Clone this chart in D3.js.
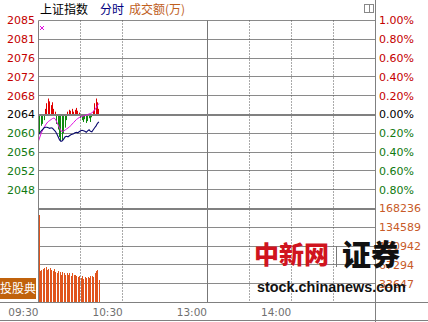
<!DOCTYPE html>
<html>
<head>
<meta charset="utf-8">
<script src="https://cdn.jsdelivr.net/npm/d3@7"></script>
<style>
  body { margin: 0; background: #fff; }
  svg { display: block; font-family: "DejaVu Sans", sans-serif; }
</style>
</head>
<body>
<svg id="chart" width="428" height="322"></svg>
<script>
// index minute data, 09:30 onwards
let prevClose = 2064.36;
let price = [2059.90, 2060.34, 2060.78, 2061.11, 2061.44, 2061.55, 2061.55, 2061.44, 2061.33, 2061.44,
    2061.33, 2061.00, 2060.67, 2060.12, 2059.46, 2058.80, 2058.47, 2058.58, 2059.02, 2059.46,
    2059.57, 2059.46, 2059.68, 2059.90, 2060.01, 2060.12, 2060.34, 2060.45, 2060.34, 2060.56,
    2060.78, 2060.89, 2060.78, 2060.67, 2060.45, 2060.78, 2061.00, 2060.67, 2060.56, 2061.00,
    2061.44, 2061.87, 2062.42, 2062.75];
let leading = [2058.54, 2059.42, 2060.30, 2060.96, 2061.51, 2062.05, 2062.49, 2062.82, 2063.04, 2063.26,
    2063.48, 2063.59, 2063.37, 2062.71, 2062.05, 2061.40, 2060.74, 2060.63, 2060.74, 2060.96,
    2061.18, 2061.40, 2061.61, 2061.94, 2062.27, 2062.60, 2062.93, 2063.26, 2063.48, 2063.70,
    2063.81, 2063.92, 2064.03, 2064.14, 2064.25, 2064.36, 2064.47, 2064.58, 2064.69, 2065.02,
    2065.35, 2065.79, 2066.34, 2066.78];
// red/green strength bars
let strength = [-32, -20, -12, -10, -6, 6, 12, 17, 14, 10,
    13, 6, 3, -10, -16, -24, -28, -27, -20, -14,
    -6, 3, 5, 4, 6, 3, 5, 7, 4, 2,
    -4, -6, -8, -5, -9, -7, -4, -8, -3, 4,
    12, 17, 13, 6];
let volume = [156000, 56000, 58000, 60000, 62000, 63000, 58000, 60000, 62000, 58000,
    56000, 60000, 55000, 52000, 57000, 54000, 50000, 54000, 52000, 49000,
    53000, 50000, 52000, 48000, 53000, 49000, 50000, 47000, 46000, 48000,
    44000, 47000, 42000, 45000, 43000, 46000, 44000, 47000, 48000, 46000,
    53000, 56000, 58000, 40000];

let pctLevels = [1, 0.8, 0.6, 0.4, 0.2, 0, -0.2, -0.4, -0.6, -0.8];
let priceLabels = ["2085", "2081", "2076", "2072", "2068", "2064", "2060", "2056", "2052", "2048"];
let pctLabels = ["1.00%", "0.80%", "0.60%", "0.40%", "0.20%", "0.00%", "0.20%", "0.40%", "0.60%", "0.80%"];
let volMax = 168236;
let volTicks = [168236, 134589, 100942, 67294, 33647];
let timeTicks = [0, 60, 120, 180];
let timeLabels = ["09:30", "10:30", "13:00", "14:00"];
let dottedMinutes = [30, 60, 150, 180, 210];
let solidMinutes = [120];

let svg = d3.select("#chart");
let W = 428, H = 322;

let x = d3.scaleLinear().domain([0, 240]).range([38.5, 375.5]);
let pctY = d3.scaleLinear().domain([-1, 1]).range([208.5, 20.5]);
let priceY = function(p) { return pctY((p / prevClose - 1) * 100); };
let volY = d3.scaleLinear().domain([0, volMax]).range([302.5, 208.5]);

function crisp(v) { return Math.round(v - 0.5) + 0.5; }

let grid = svg.append("g").attr("class", "grid");

// horizontal lines, price part
pctLevels.forEach(function(l) {
    grid.append("line")
        .attr("x1", x(0)).attr("x2", x(240))
        .attr("y1", crisp(pctY(l))).attr("y2", crisp(pctY(l)))
        .attr("stroke", "#8a8a8a")
        .attr("stroke-width", 1);
});
// volume part
volTicks.slice(1).forEach(function(v) {
    grid.append("line")
        .attr("x1", x(0)).attr("x2", x(240))
        .attr("y1", crisp(volY(v))).attr("y2", crisp(volY(v)))
        .attr("stroke", "#8a8a8a");
});

// vertical lines
dottedMinutes.forEach(function(m) {
    grid.append("line")
        .attr("x1", crisp(x(m))).attr("x2", crisp(x(m)))
        .attr("y1", pctY(1)).attr("y2", volY(0))
        .attr("stroke", "#555")
        .attr("stroke-dasharray", "1,2");
});
solidMinutes.forEach(function(m) {
    grid.append("line")
        .attr("x1", crisp(x(m))).attr("x2", crisp(x(m)))
        .attr("y1", pctY(1)).attr("y2", volY(0))
        .attr("stroke", "#777");
});

// red / green bars
svg.append("g").selectAll("line")
    .data(strength)
    .enter().append("line")
    .attr("x1", function(d, i) { return crisp(x(i)); })
    .attr("x2", function(d, i) { return crisp(x(i)); })
    .attr("y1", pctY(0))
    .attr("y2", function(d) { return pctY(d / 100); })
    .attr("stroke", function(d) { return d > 0 ? "#e00000" : "#108a10"; })
    .attr("stroke-width", 1);

// volume bars
svg.append("g").selectAll("rect")
    .data(volume)
    .enter().append("rect")
    .attr("x", function(d, i) { return Math.round(x(i)); })
    .attr("y", function(d) { return volY(d); })
    .attr("width", 1)
    .attr("height", function(d) { return volY(0) - volY(d); })
    .attr("fill", "#e0541c")
    .style("shape-rendering", "crispEdges");

// thick lines: zero line and separator
svg.append("line")
    .attr("x1", x(0)).attr("x2", x(240))
    .attr("y1", Math.round(pctY(0))).attr("y2", Math.round(pctY(0)))
    .attr("stroke", "#808080").attr("stroke-width", 2);
svg.append("line")
    .attr("x1", x(0)).attr("x2", x(240))
    .attr("y1", Math.round(volY(volMax))).attr("y2", Math.round(volY(volMax)))
    .attr("stroke", "#808080").attr("stroke-width", 2);

// index lines
let line = d3.line()
    .x(function(d, i) { return x(i); })
    .y(function(d) { return priceY(d); });

svg.append("path")
    .datum(leading)
    .attr("d", line)
    .attr("fill", "none")
    .attr("stroke", "#e010e0")
    .attr("stroke-width", 1);

svg.append("path")
    .datum(price)
    .attr("d", line)
    .attr("fill", "none")
    .attr("stroke", "#0a0a6e")
    .attr("stroke-width", 1.1);

// frame lines
svg.append("line")
    .attr("x1", crisp(x(0))).attr("x2", crisp(x(0)))
    .attr("y1", pctY(1)).attr("y2", volY(0))
    .attr("stroke", "#808080");
svg.append("line")
    .attr("x1", crisp(x(240))).attr("x2", crisp(x(240)))
    .attr("y1", 0).attr("y2", H)
    .attr("stroke", "#808080");
svg.append("line")
    .attr("x1", 0).attr("x2", W)
    .attr("y1", crisp(volY(0))).attr("y2", crisp(volY(0)))
    .attr("stroke", "#808080");
svg.append("line")
    .attr("x1", 0).attr("x2", W)
    .attr("y1", H - 1.5).attr("y2", H - 1.5)
    .attr("stroke", "#808080");

// labels
function levelColor(l) {
    if (l > 0) return "#c40000";
    if (l < 0) return "#107a10";
    return "#000";
}

svg.append("g").selectAll("text")
    .data(pctLevels)
    .enter().append("text")
    .attr("x", 35)
    .attr("y", function(d) { return pctY(d); })
    .attr("dy", "0.36em")
    .attr("text-anchor", "end")
    .attr("font-size", 11)
    .attr("fill", levelColor)
    .text(function(d, i) { return priceLabels[i]; });

svg.append("g").selectAll("text")
    .data(pctLevels)
    .enter().append("text")
    .attr("x", 379)
    .attr("y", function(d) { return pctY(d); })
    .attr("dy", "0.36em")
    .attr("font-size", 11)
    .attr("fill", levelColor)
    .text(function(d, i) { return pctLabels[i]; });

svg.append("g").selectAll("text")
    .data(volTicks)
    .enter().append("text")
    .attr("x", 379)
    .attr("y", function(d) { return volY(d); })
    .attr("dy", "0.36em")
    .attr("font-size", 11)
    .attr("fill", "#c85a28")
    .text(function(d) { return d; });

svg.append("g").selectAll("text")
    .data(timeTicks)
    .enter().append("text")
    .attr("x", function(d) { return x(d); })
    .attr("y", 316)
    .attr("text-anchor", "end")
    .attr("font-size", 10.5)
    .attr("fill", "#707070")
    .text(function(d, i) { return timeLabels[i]; });

// title
let title = svg.append("text")
    .attr("x", 40).attr("y", 14)
    .attr("font-family", "'Noto Sans CJK SC', sans-serif")
    .attr("font-size", 12);
title.append("tspan").attr("fill", "#000").text("上证指数");
title.append("tspan").attr("x", 100).attr("fill", "#000080").text("分时");
title.append("tspan").attr("x", 129).attr("fill", "#c0601e").text("成交额(万)");

// small marker top left
let mk = svg.append("g").attr("transform", "translate(42,28)").attr("stroke", "#e010e0");
mk.append("line").attr("x1", -2).attr("y1", -2).attr("x2", 2).attr("y2", 2);
mk.append("line").attr("x1", -2).attr("y1", 2).attr("x2", 2).attr("y2", -2);
mk.append("rect").attr("x", -1).attr("y", -1).attr("width", 2).attr("height", 2).attr("fill", "#e010e0").attr("stroke", "none");

// icon top right
svg.append("rect")
    .attr("x", 364.5).attr("y", 4.5).attr("width", 9).attr("height", 8)
    .attr("fill", "none").attr("stroke", "#888");
svg.append("line")
    .attr("x1", 369.5).attr("x2", 369.5).attr("y1", 4.5).attr("y2", 12.5)
    .attr("stroke", "#888");

// button bottom left
svg.append("rect")
    .attr("x", 0).attr("y", 278).attr("width", 36).attr("height", 21)
    .attr("fill", "#c0620c");
svg.append("text")
    .attr("x", 18).attr("y", 293)
    .attr("text-anchor", "middle")
    .attr("font-family", "'Noto Sans CJK SC', sans-serif")
    .attr("font-size", 12)
    .attr("fill", "#fff")
    .text("投股典");

// watermark
let wm = svg.append("g");
wm.append("text")
    .attr("x", 254).attr("y", 264)
    .attr("font-family", "'Noto Sans CJK SC', sans-serif")
    .attr("font-weight", 900)
    .attr("font-size", 25)
    .attr("fill", "#d0141e")
    .text("中新网");
wm.append("line")
    .attr("x1", 336.5).attr("x2", 336.5).attr("y1", 246).attr("y2", 267)
    .attr("stroke", "#777");
wm.append("text")
    .attr("x", 342).attr("y", 266)
    .attr("font-family", "'Noto Sans CJK SC', sans-serif")
    .attr("font-weight", 900)
    .attr("font-size", 29)
    .attr("fill", "#111")
    .text("证券");
wm.append("text")
    .attr("x", 257).attr("y", 292)
    .attr("font-family", "'Liberation Sans', Arial, sans-serif")
    .attr("font-weight", "bold")
    .attr("font-size", 14.4)
    .attr("fill", "#111")
    .text("stock.chinanews.com");
</script>
</body>
</html>
